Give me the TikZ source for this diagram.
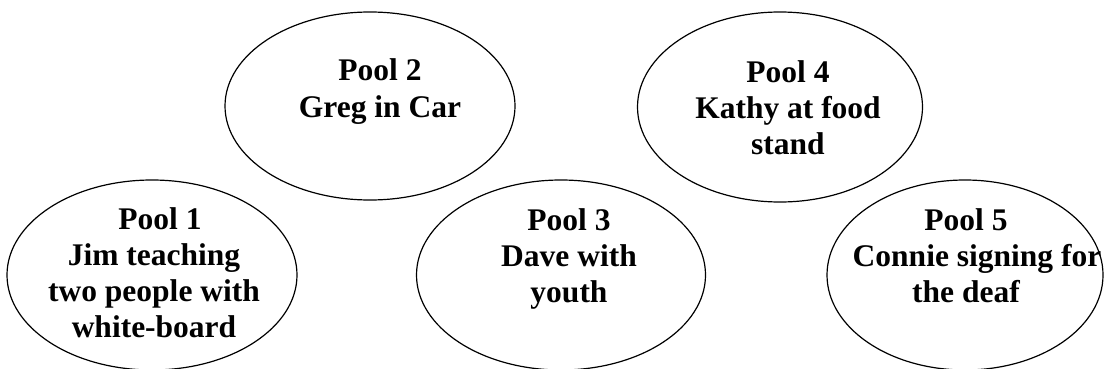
\documentclass[tikz,border=0pt]{standalone}
\usepackage{fontspec}
\setmainfont{Liberation Serif}
\usetikzlibrary{shapes.geometric}
\tikzset{
  pool/.style={draw=black, line width=1.2pt, ellipse, inner sep=0pt},
  label/.style={align=center, inner sep=0pt, anchor=base,
    font=\fontsize{31.5}{36}\selectfont\bfseries}
}
\begin{document}
\begin{tikzpicture}[x=1pt,y=-1pt]
\useasboundingbox (0,0) rectangle (1105,369);
\node[pool, minimum width=290pt, minimum height=190pt] (p1) at (152,275) {};
\node[pool, minimum width=290pt, minimum height=188pt] (p2) at (370,106) {};
\node[pool, minimum width=289pt, minimum height=190pt] (p3) at (561,275) {};
\node[pool, minimum width=285pt, minimum height=190pt] (p4) at (780,107) {};
\node[pool, minimum width=276pt, minimum height=190pt] (p5) at (965,275) {};
\node[label] (t1) at (154,337) {\hspace*{12pt}Pool 1\\Jim teaching\\two people with\\white-board};
\node[label] (t2) at (380,117) {Pool 2\\Greg in Car};
\node[label] (t3) at (569,302) {Pool 3\\Dave with\\youth};
\node[label] (t4) at (788,154) {Pool 4\\Kathy at food\\stand};
\node[label] (t5) at (966,302) {Pool 5\\\hspace*{22pt}Connie signing for\\the deaf};
\end{tikzpicture}
\end{document}
